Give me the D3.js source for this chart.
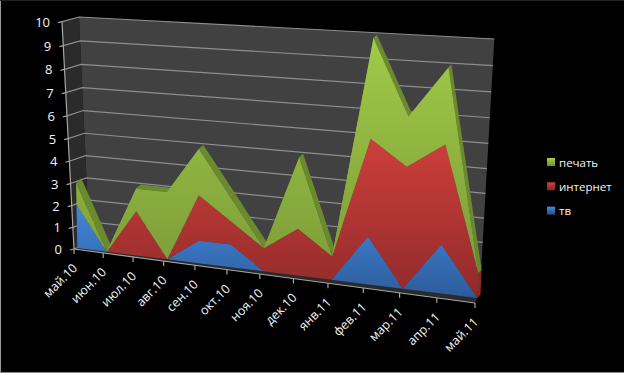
<!DOCTYPE html>
<html>
<head>
<meta charset="utf-8">
<script src="https://cdn.jsdelivr.net/npm/d3@7"></script>
<style>
  html, body { margin: 0; padding: 0; background: #000; overflow: hidden; }
  svg { display: block; }
  text { font-family: "Open Sans", "Noto Sans", sans-serif; fill: #f4f4f4; }
</style>
</head>
<body>
<div id="chart"></div>
<script>
// Chart values
const months = ["май.10", "июн.10", "июл.10", "авг.10", "сен.10", "окт.10", "ноя.10", "дек.10", "янв.11", "фев.11", "мар.11", "апр.11", "май.11"];
const tv = [2, 0, 0, 0, 1, 1, 0, 0, 0, 2, 0, 2, 0];
const internet = [0, 0, 2, 0, 2, 1, 1, 2, 1, 4, 5, 4, 1];
const print = [1, 0, 1, 3, 2, 1, 0, 3, 0, 4, 2, 3, 0];
const valueTicks = [0, 1, 2, 3, 4, 5, 6, 7, 8, 9, 10];
const legendItems = ["печать", "интернет", "тв"];

const width = 624;
const height = 373;

// Corners of the 3D planes on screen: bottom-left, bottom-right, top-right, top-left
const axisPlane = [[74, 249], [475, 303], [489, 41], [62, 21.7]];
const wallPlane = [[89.5, 243], [480, 290], [494.3, 39], [79, 17]];
const facePlane = [[77.3, 248], [477.3, 298], [489, 43], [73, 25]];
const depthPlane = [[82.5, 243.5], [480.5, 294.5], [491.5, 40], [78.5, 21]];

const xScale = d3.scaleLinear().domain([0, months.length - 1]).range([0, 1]);
const yScale = d3.scaleLinear().domain([0, 10]).range([0, 1]);

// Perspective mapping from the unit square to one of the planes above
function makePlane(corners) {
  const [[x0, y0], [x1, y1], [x2, y2], [x3, y3]] = corners;
  const dx1 = x1 - x2, dx2 = x3 - x2, sx = x0 - x1 + x2 - x3;
  const dy1 = y1 - y2, dy2 = y3 - y2, sy = y0 - y1 + y2 - y3;
  const den = dx1 * dy2 - dx2 * dy1;
  const g = (sx * dy2 - dx2 * sy) / den;
  const h = (dx1 * sy - sx * dy1) / den;
  const a = x1 - x0 + g * x1, b = x3 - x0 + h * x3;
  const d = y1 - y0 + g * y1, e = y3 - y0 + h * y3;
  return (i, v) => {
    const u = xScale(i), t = yScale(v);
    const w = g * u + h * t + 1;
    return [(a * u + b * t + x0) / w, (d * u + e * t + y0) / w];
  };
}

const onAxis = makePlane(axisPlane);
const onWall = makePlane(wallPlane);
const onFace = makePlane(facePlane);
const onDepth = makePlane(depthPlane);

const svg = d3.select("#chart").append("svg").attr("width", width).attr("height", height);
const defs = svg.append("defs");

function addGradient(id, y1, y2, c1, c2, units) {
  const g = defs.append("linearGradient").attr("id", id).attr("x1", 0).attr("x2", 0);
  if (units) g.attr("gradientUnits", "userSpaceOnUse");
  g.attr("y1", y1).attr("y2", y2);
  g.append("stop").attr("offset", 0).attr("stop-color", c1);
  g.append("stop").attr("offset", 1).attr("stop-color", c2);
}
addGradient("gPrint", 35, 260, "#a1cb48", "#7f9f39", true);
addGradient("gInternet", 140, 300, "#cd3f3b", "#8f2a2a", true);
addGradient("gTv", 205, 300, "#4287dc", "#2c5a98", true);
addGradient("lPrint", 0, 1, "#a6cf4c", "#6f8c32");
addGradient("lInternet", 0, 1, "#cf4441", "#80282a");
addGradient("lTv", 0, 1, "#4489dd", "#274f85");

const line = d3.line();
const legendFill = ["url(#lPrint)", "url(#lInternet)", "url(#lTv)"];

// Thin frame of the screenshot
svg.append("rect").attr("x", 0).attr("y", 0).attr("width", 1).attr("height", height).attr("fill", "#9a9a9a");
svg.append("rect").attr("x", 0).attr("y", height - 1).attr("width", width).attr("height", 1).attr("fill", "#8a8a8a");
svg.append("rect").attr("x", 0).attr("y", 0).attr("width", width).attr("height", 1).attr("fill", "#222");

// Walls and floor
svg.append("path")
  .attr("d", line([onAxis(0, 0), onWall(0, 0), onWall(0, 10), onAxis(0, 10)]) + "Z")
  .attr("fill", "#2b2b2b");
svg.append("path")
  .attr("d", line([onWall(0, 0), onWall(12, 0), onWall(12, 10), onWall(0, 10)]) + "Z")
  .attr("fill", "#414141");
svg.append("path")
  .attr("d", line([onAxis(0, 0), onAxis(12, 0), onWall(12, 0), onWall(0, 0)]) + "Z")
  .attr("fill", "#2a2a2a");

// Gridlines over back and side wall
svg.append("g").selectAll("path").data(valueTicks).join("path")
  .attr("d", (v) => line([onAxis(0, v), onWall(0, v), onWall(12, v)]))
  .attr("fill", "none")
  .attr("stroke", "#8e8e8e")
  .attr("stroke-width", 1.2);

// Axis lines and tick marks
const axisColor = "#a6a6a6";
svg.append("path").attr("d", line([onAxis(0, 0), onAxis(0, 10)]))
  .attr("stroke", axisColor).attr("stroke-width", 1.2).attr("fill", "none");
svg.append("path").attr("d", line([onAxis(0, 0), onAxis(12, 0)]))
  .attr("stroke", axisColor).attr("stroke-width", 1.2).attr("fill", "none");
svg.append("g").selectAll("line").data(valueTicks).join("line")
  .attr("x1", (v) => onAxis(0, v)[0] - 4)
  .attr("y1", (v) => onAxis(0, v)[1] + 1)
  .attr("x2", (v) => onAxis(0, v)[0])
  .attr("y2", (v) => onAxis(0, v)[1])
  .attr("stroke", axisColor).attr("stroke-width", 1.2);
svg.append("g").selectAll("line").data(months).join("line")
  .attr("x1", (d, i) => onAxis(i, 0)[0])
  .attr("y1", (d, i) => onAxis(i, 0)[1])
  .attr("x2", (d, i) => onAxis(i, 0)[0])
  .attr("y2", (d, i) => onAxis(i, 0)[1] + 5)
  .attr("stroke", axisColor).attr("stroke-width", 1.2);

// Stacked series
const rows = months.map((m, i) => ({ tv: tv[i], internet: internet[i], print: print[i] }));
const stacked = d3.stack().keys(["tv", "internet", "print"])(rows);
const total = stacked[2];
const last = months.length - 1;

// Extruded top of the stack, then the red end cap at the right
d3.range(last).forEach((i) => {
  const a = total[i][1], b = total[i + 1][1];
  svg.append("path")
    .attr("d", line([onFace(i, a), onFace(i + 1, b), onDepth(i + 1, b), onDepth(i, a)]) + "Z")
    .attr("fill", b > a ? "#7d9b3a" : "#6b8a2e");
});
svg.append("path")
  .attr("d", line([onFace(last, 0), onFace(last, stacked[1][last][1]), onDepth(last, stacked[1][last][1]), onDepth(last, 0)]) + "Z")
  .attr("fill", "#8c2a2a");

const fills = ["url(#gTv)", "url(#gInternet)", "url(#gPrint)"];
svg.append("g").selectAll("path").data(stacked).join("path")
  .attr("d", (layer) => {
    const top = layer.map((d, i) => onFace(i, d[1]));
    const bottom = layer.map((d, i) => onFace(i, d[0])).reverse();
    return line(top.concat(bottom)) + "Z";
  })
  .attr("fill", (d, i) => fills[i]);

// Value labels
svg.append("g").selectAll("text").data(valueTicks).join("text")
  .attr("x", (v) => onAxis(0, v)[0] - 12)
  .attr("y", (v) => onAxis(0, v)[1] + 5)
  .attr("text-anchor", "end")
  .attr("font-size", 13)
  .text((v) => v);

// Month labels
svg.append("g").selectAll("text").data(months).join("text")
  .attr("transform", (d, i) => {
    const p = onAxis(i, 0);
    return `translate(${p[0] + 4},${p[1] + 20}) rotate(-45)`;
  })
  .attr("text-anchor", "end")
  .attr("font-size", 12.5)
  .text((d) => d);

// Legend
const legend = svg.append("g").selectAll("g").data(legendItems).join("g")
  .attr("transform", (d, i) => `translate(547,${158 + i * 24.3})`);
legend.append("rect").attr("width", 8).attr("height", 8)
  .attr("fill", (d, i) => legendFill[i]);
legend.append("text").attr("x", 12).attr("y", 8.5)
  .attr("font-size", 11.5)
  .text((d) => d);
</script>
</body>
</html>
